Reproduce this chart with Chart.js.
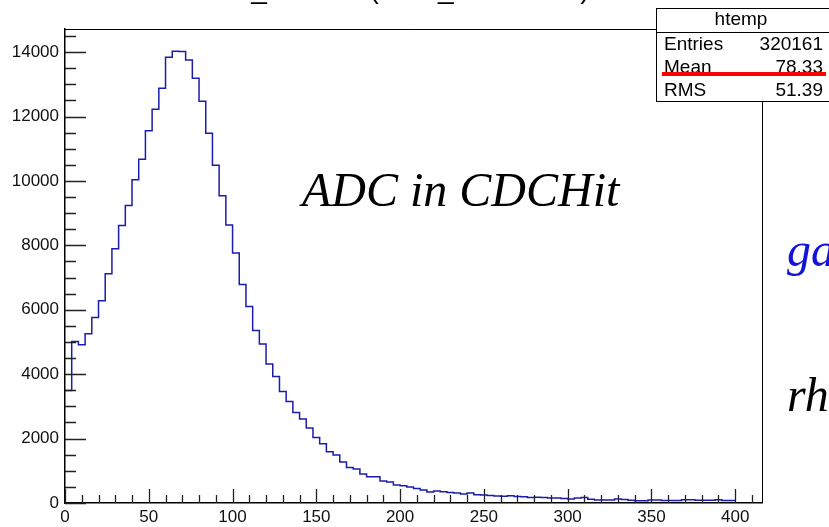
<!DOCTYPE html>
<html>
<head>
<meta charset="utf-8">
<title>ADC in CDCHit</title>
<script src="https://cdn.jsdelivr.net/npm/chart.js@4.4.1/dist/chart.umd.min.js"></script>
<style>
  html, body { margin: 0; padding: 0; background: #fff; }
  #wrap { width: 829px; height: 527px; position: relative; }
</style>
</head>
<body>
<div id="wrap"><canvas id="adcChart" width="829" height="527"></canvas></div>
<script>
// histogram of CDC hit ADC, 4 ADC counts per bin, 0..400
const BIN_WIDTH = 4;
const adcCounts = [
  3490, 5016, 4914, 5255, 5762, 6280, 7118, 7894, 8618, 9238,
  10036, 10678, 11557, 12231, 12883, 13845, 14031, 14020, 13761, 13193,
  12479, 11486, 10492, 9539, 8630, 7761, 6786, 6103, 5358, 4936,
  4315, 3930, 3464, 3154, 2812, 2608, 2328, 2037, 1841, 1592,
  1490, 1273, 1105, 1055, 900, 816, 816, 683, 652, 559,
  537, 497, 453, 404, 341, 372, 351, 329, 310, 279,
  310, 258, 250, 236, 215, 210, 225, 205, 195, 170,
  175, 172, 155, 155, 140, 124, 155, 174, 120, 93,
  93, 93, 124, 108, 87, 72, 72, 93, 93, 80,
  80, 80, 100, 100, 87, 87, 87, 100, 80, 80
];
const xTicks = [0, 50, 100, 150, 200, 250, 300, 350, 400];
const yTicks = [0, 2000, 4000, 6000, 8000, 10000, 12000, 14000];
const statLabels = ['Entries', 'Mean', 'RMS'];
const statValues = ['320161', '78.33', '51.39'];

const X_MAX = 416;
const Y_MAX = 14720;

// step points at each bin's lower edge, plus the closing upper edge
const histPoints = adcCounts.map((c, i) => ({ x: i * BIN_WIDTH, y: c }));
histPoints.push({ x: adcCounts.length * BIN_WIDTH, y: adcCounts[adcCounts.length - 1] });

Chart.defaults.font.family = "'Liberation Sans', Arial, sans-serif";

const rootDecor = {
  id: 'rootDecor',
  afterDatasetsDraw(chart) {
    const { ctx, chartArea: a, scales: { x, y } } = chart;
    ctx.save();
    // frame (top and right)
    ctx.strokeStyle = '#000';
    ctx.lineWidth = 1;
    ctx.beginPath();
    ctx.moveTo(a.left, a.top + 0.5);
    ctx.lineTo(a.right + 0.5, a.top + 0.5);
    ctx.lineTo(a.right + 0.5, a.bottom);
    ctx.stroke();

    // tick marks drawn inwards, ROOT style
    ctx.strokeStyle = '#222';
    ctx.lineWidth = 1.3;
    ctx.beginPath();
    for (let v = 0; v <= Y_MAX; v += 500) {
      const py = Math.round(y.getPixelForValue(v)) + 0.5;
      const len = v % 2000 === 0 ? 21 : 11;
      ctx.moveTo(a.left, py);
      ctx.lineTo(a.left + len, py);
    }
    for (let v = 0; v <= X_MAX; v += 10) {
      const px = Math.round(x.getPixelForValue(v)) + 0.5;
      const len = v % 50 === 0 ? 14 : 8;
      ctx.moveTo(px, a.bottom);
      ctx.lineTo(px, a.bottom - len);
    }
    ctx.stroke();
    ctx.restore();
  },
  afterDraw(chart) {
    const { ctx } = chart;
    ctx.save();

    // title, mostly above the visible area
    ctx.fillStyle = '#000';
    ctx.font = "28px 'Liberation Sans', Arial, sans-serif";
    ctx.textBaseline = 'alphabetic';
    ctx.textAlign = 'left';
    const title = 'ADC_CDCHit (ADC_CDCHit>0)';
    const pre = ctx.measureText('ADC').width + ctx.measureText('_').width / 2;
    ctx.fillText(title, 259 - pre, -2);

    // stats box
    const bx = 656.5, by = 8.5, bw = 190, bh = 93;
    ctx.fillStyle = '#fff';
    ctx.fillRect(bx, by, bw, bh);
    ctx.strokeStyle = '#000';
    ctx.lineWidth = 1;
    ctx.strokeRect(bx, by, bw, bh);
    ctx.beginPath();
    ctx.moveTo(bx, 32.5);
    ctx.lineTo(bx + bw, 32.5);
    ctx.stroke();

    ctx.fillStyle = '#000';
    ctx.font = "19px 'Liberation Sans', Arial, sans-serif";
    ctx.textBaseline = 'middle';
    ctx.textAlign = 'center';
    ctx.fillText('htemp', 741, 20);
    const rows = [45, 68, 91];
    statLabels.forEach((lab, i) => {
      ctx.textAlign = 'left';
      ctx.fillText(lab, 664, rows[i]);
      ctx.textAlign = 'right';
      ctx.fillText(statValues[i], 823, rows[i]);
    });

    // red marker line through the Mean row
    ctx.strokeStyle = '#ff0000';
    ctx.lineWidth = 4;
    ctx.beginPath();
    ctx.moveTo(662, 74);
    ctx.lineTo(826, 74);
    ctx.stroke();

    // annotations
    ctx.textBaseline = 'alphabetic';
    ctx.textAlign = 'left';
    ctx.font = "italic 48px 'Liberation Serif', 'Times New Roman', serif";
    ctx.fillStyle = '#000';
    ctx.fillText('ADC in CDCHit', 302, 206);
    ctx.fillStyle = '#1414d8';
    ctx.fillText('ga', 787, 266);
    ctx.fillStyle = '#000';
    ctx.fillText('rh', 787, 411);

    ctx.restore();
  }
};

new Chart(document.getElementById('adcChart'), {
  type: 'line',
  data: {
    datasets: [{
      label: 'htemp',
      data: histPoints,
      stepped: 'before',
      borderColor: '#1c1cac',
      borderWidth: 1.5,
      pointRadius: 0,
      fill: false,
      tension: 0
    }]
  },
  options: {
    responsive: false,
    animation: false,
    devicePixelRatio: 1,
    layout: { padding: { left: 0, top: 29, right: 67, bottom: 0 } },
    plugins: {
      legend: { display: false },
      title: { display: false },
      tooltip: { enabled: false }
    },
    scales: {
      x: {
        type: 'linear',
        min: 0,
        max: X_MAX,
        afterFit: (s) => { s.height = 24; },
        afterBuildTicks: (s) => { s.ticks = xTicks.map(v => ({ value: v })); },
        grid: { display: false, drawTicks: false },
        border: { display: true, color: '#000', width: 1.5 },
        ticks: {
          padding: 4,
          color: '#111',
          maxRotation: 0,
          autoSkip: false,
          font: { size: 17 },
          callback: (v) => String(v)
        }
      },
      y: {
        type: 'linear',
        min: 0,
        max: Y_MAX,
        afterFit: (s) => { s.width = 65; },
        afterBuildTicks: (s) => { s.ticks = yTicks.map(v => ({ value: v })); },
        grid: { display: false, drawTicks: false },
        border: { display: true, color: '#000', width: 1.5 },
        ticks: {
          padding: 6,
          color: '#111',
          autoSkip: false,
          font: { size: 17 },
          callback: (v) => String(v)
        }
      }
    }
  },
  plugins: [rootDecor]
});
</script>
</body>
</html>
